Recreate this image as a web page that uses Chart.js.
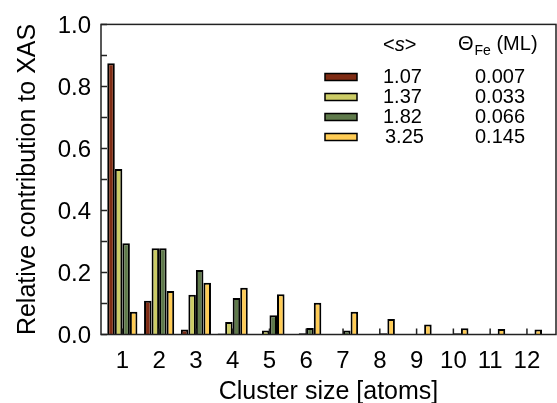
<!DOCTYPE html>
<html>
<head>
<meta charset="utf-8">
<script src="https://cdn.jsdelivr.net/npm/chart.js@4.4.1/dist/chart.umd.min.js"></script>
<style>
  html, body { margin: 0; padding: 0; background: #fff; }
  #wrap { width: 557px; height: 403px; }
</style>
</head>
<body>
<div id="wrap"><canvas id="bars"></canvas></div>
<script>
// cluster sizes
const sizes = [1, 2, 3, 4, 5, 6, 7, 8, 9, 10, 11, 12];

// relative contribution to XAS, one array per coverage
const s107 = [0.875, 0.109, 0.016, 0.003, 0.001, 0.001, 0, 0, 0, 0, 0, 0];
const s137 = [0.534, 0.278, 0.128, 0.040, 0.013, 0.004, 0.002, 0.001, 0.002, 0, 0, 0];
const s182 = [0.294, 0.278, 0.208, 0.118, 0.062, 0.021, 0.013, 0.004, 0.002, 0.004, 0.001, 0];
const s325 = [0.073, 0.140, 0.167, 0.151, 0.130, 0.102, 0.073, 0.050, 0.032, 0.020, 0.018, 0.016];

// legend table
const meanSize = ['1.07', '1.37', '1.82', '3.25'];
const coverage = ['0.007', '0.033', '0.066', '0.145'];
const colors = ['#7f2c14', '#cccc66', '#5f7a4b', '#ffcc55'];

const yTicks = [0, 0.1, 0.2, 0.3, 0.4, 0.5, 0.6, 0.7, 0.8, 0.9, 1.0];

const FONT = 'Liberation Sans, Arial, sans-serif';

// frame, inward ticks and the little table legend
const framePlugin = {
  id: 'frame',
  afterDraw(chart) {
    const { ctx, chartArea: a, scales } = chart;
    ctx.save();
    ctx.strokeStyle = '#222';
    ctx.lineWidth = 1.5;
    ctx.beginPath();
    yTicks.forEach(v => {
      const y = scales.y.getPixelForValue(v);
      ctx.moveTo(a.left, y);
      ctx.lineTo(a.left + 6, y);
    });
    sizes.forEach(v => {
      const x = scales.x.getPixelForValue(v);
      ctx.moveTo(x, a.bottom);
      ctx.lineTo(x, a.bottom - 6);
    });
    ctx.stroke();
    ctx.strokeRect(a.left, a.top, a.right - a.left, a.bottom - a.top);

    // legend
    ctx.fillStyle = '#000';
    ctx.textBaseline = 'middle';
    ctx.font = '20px ' + FONT;
    let x = 383;
    ctx.fillText('<', x, 45);
    x += ctx.measureText('<').width;
    ctx.font = 'italic 20px ' + FONT;
    ctx.fillText('s', x, 45);
    x += ctx.measureText('s').width;
    ctx.font = '20px ' + FONT;
    ctx.fillText('>', x, 45);

    x = 458;
    ctx.fillText('\u0398', x, 44);
    x += ctx.measureText('\u0398').width + 1;
    ctx.font = '14px ' + FONT;
    ctx.fillText('Fe', x, 51);
    x += ctx.measureText('Fe').width;
    ctx.font = '20px ' + FONT;
    ctx.fillText(' (ML)', x, 44);

    meanSize.forEach((m, i) => {
      const y = 77 + i * 20;
      ctx.fillStyle = colors[i];
      ctx.fillRect(325, y - 3.5, 32, 7);
      ctx.lineWidth = 1.5;
      ctx.strokeStyle = '#000';
      ctx.strokeRect(325, y - 3.5, 32, 7);
      ctx.fillStyle = '#000';
      ctx.font = '20px ' + FONT;
      ctx.fillText(m, i === 3 ? 385 : 383, y);
      ctx.fillText(coverage[i], 475, y);
    });
    ctx.restore();
  }
};

const ctx = document.getElementById('bars');

const chart = new Chart(ctx, {
  type: 'bar',
  data: {
    labels: sizes,
    datasets: [s107, s137, s182, s325].map((d, i) => ({
      label: meanSize[i],
      data: d,
      backgroundColor: colors[i],
      borderColor: '#000',
      borderWidth: 2,
      categoryPercentage: 0.82,
      barPercentage: 1.0
    }))
  },
  options: {
    responsive: true,
    maintainAspectRatio: false,
    animation: false,
    layout: { padding: { left: 0, top: 14, right: 1, bottom: 0 } },
    plugins: {
      legend: { display: false },
      tooltip: { enabled: false }
    },
    scales: {
      x: {
        type: 'linear',
        offset: false,
        min: 0.42,
        max: 12.79,
        afterBuildTicks: s => { s.ticks = sizes.map(v => ({ value: v })); },
        afterFit: s => { s.height = 68.5; },
        grid: { display: false, drawTicks: false, offset: false },
        border: { display: false },
        ticks: {
          padding: 12,
          color: '#000',
          font: { family: FONT, size: 24 },
          maxRotation: 0,
          autoSkip: false,
          callback: v => String(v)
        },
        title: {
          display: true,
          text: 'Cluster size [atoms]',
          color: '#000',
          font: { family: FONT, size: 25, lineHeight: 1 },
          padding: { top: 0, bottom: -2 }
        }
      },
      y: {
        min: 0,
        max: 1,
        afterFit: s => { s.width = 101; },
        grid: { display: false, drawTicks: false },
        border: { display: false },
        ticks: {
          stepSize: 0.2,
          padding: 10,
          labelOffset: 2,
          color: '#000',
          font: { family: FONT, size: 24 },
          callback: v => v.toFixed(1)
        },
        title: {
          display: true,
          text: 'Relative contribution to XAS',
          color: '#000',
          font: { family: FONT, size: 25, lineHeight: 1.2 },
          padding: { top: 13, bottom: 0 }
        }
      }
    }
  },
  plugins: [framePlugin]
});
</script>
</body>
</html>
